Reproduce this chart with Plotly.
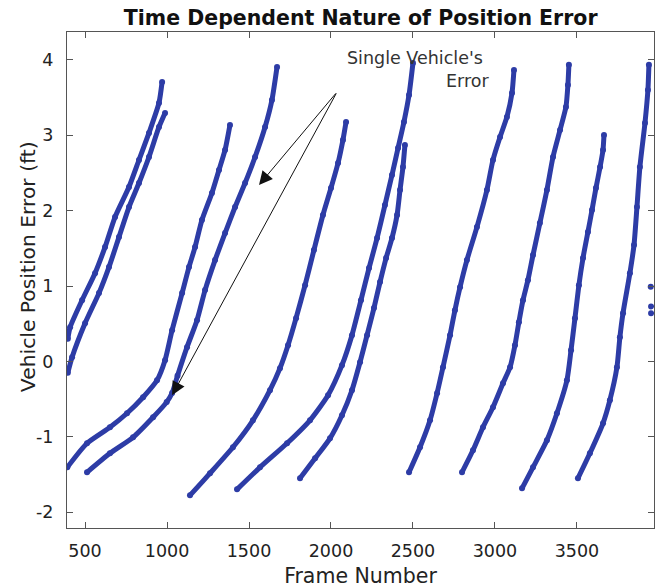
import plotly.graph_objects as go

# Frame number / position error (ft), one list pair per vehicle
frames_a = [395, 409, 482, 561, 622, 683, 768, 829, 890, 951, 970]
err_a = [0.30, 0.454, 0.813, 1.171, 1.517, 1.915, 2.313, 2.672, 3.031, 3.429, 3.708]

frames_b = [395, 421, 500, 585, 646, 707, 768, 829, 890, 951, 988]
err_b = [-0.15, 0.056, 0.507, 0.906, 1.251, 1.649, 2.048, 2.367, 2.712, 3.110, 3.296]

frames_c1 = [392, 512, 652, 756, 854, 939, 988, 1031, 1092, 1134, 1171, 1213, 1274, 1317, 1354, 1384]
err_c1 = [-1.405, -1.086, -0.874, -0.688, -0.475, -0.250, 0.016, 0.414, 0.906, 1.251, 1.517,
          1.875, 2.234, 2.539, 2.805, 3.137]

frames_c2 = [512, 652, 793, 915, 998, 1031, 1064, 1122, 1183, 1232, 1293, 1354, 1415, 1476,
             1537, 1598, 1640, 1671]
err_c2 = [-1.471, -1.219, -1.007, -0.741, -0.540, -0.420, -0.190, 0.189, 0.547, 0.946, 1.344,
          1.703, 2.048, 2.367, 2.712, 3.110, 3.469, 3.907]

frames_d1 = [1140, 1262, 1402, 1524, 1628, 1689, 1738, 1787, 1842, 1896, 1951, 2000, 2043,
             2073, 2092]
err_d1 = [-1.777, -1.485, -1.139, -0.781, -0.382, -0.090, 0.215, 0.574, 1.012, 1.477, 1.942,
          2.300, 2.632, 2.938, 3.177]

frames_d2 = [1427, 1567, 1732, 1872, 1982, 2067, 2128, 2183, 2232, 2281, 2329, 2372, 2409,
             2445, 2476, 2500]
err_d2 = [-1.697, -1.405, -1.086, -0.781, -0.449, -0.050, 0.348, 0.813, 1.238, 1.636, 2.074,
          2.473, 2.831, 3.177, 3.535, 3.960]

frames_d3 = [1811, 1903, 1994, 2067, 2128, 2177, 2220, 2262, 2299, 2336, 2372, 2403, 2421,
             2439, 2451]
err_d3 = [-1.551, -1.286, -1.020, -0.714, -0.382, -0.011, 0.348, 0.707, 1.052, 1.371, 1.636,
          1.942, 2.274, 2.579, 2.871]

frames_e = [2476, 2543, 2604, 2647, 2683, 2726, 2756, 2787, 2829, 2890, 2951, 2988, 3031,
            3073, 3104, 3116]
err_e = [-1.471, -1.139, -0.781, -0.422, -0.077, 0.348, 0.680, 0.985, 1.344, 1.782, 2.274,
         2.672, 2.977, 3.243, 3.562, 3.867]

frames_f = [2799, 2866, 2927, 2988, 3049, 3092, 3122, 3146, 3171, 3201, 3232, 3274, 3317,
            3354, 3397, 3433, 3445, 3451]
err_f = [-1.471, -1.179, -0.874, -0.608, -0.290, -0.077, 0.215, 0.521, 0.813, 1.078, 1.410,
         1.835, 2.274, 2.712, 3.070, 3.376, 3.668, 3.934]

frames_g = [3165, 3232, 3317, 3378, 3439, 3464, 3488, 3512, 3537, 3567, 3592, 3616, 3641,
            3659, 3665]
err_g = [-1.684, -1.405, -1.046, -0.688, -0.250, 0.149, 0.574, 1.012, 1.371, 1.716, 2.008,
         2.300, 2.579, 2.805, 3.004]

frames_h = [3506, 3579, 3659, 3701, 3744, 3762, 3781, 3823, 3848, 3866, 3884, 3915, 3933, 3939]
err_h = [-1.551, -1.219, -0.821, -0.515, -0.077, 0.321, 0.640, 1.171, 1.543, 2.048, 2.579,
         3.163, 3.602, 3.934]

frames_i = [3950, 3952, 3952]
err_i = [0.99, 0.73, 0.64]

x_ticks = [500, 1000, 1500, 2000, 2500, 3000, 3500]
y_ticks = [-2, -1, 0, 1, 2, 3, 4]
y_tick_labels = ["-2", "-1", "0", "1", "2", "3", "4"]

series = [
    (frames_a, err_a), (frames_b, err_b), (frames_c1, err_c1), (frames_c2, err_c2),
    (frames_d1, err_d1), (frames_d2, err_d2), (frames_d3, err_d3), (frames_e, err_e),
    (frames_f, err_f), (frames_g, err_g), (frames_h, err_h),
]

BLUE = "#2d3ca6"
FONT = "DejaVu Sans"

fig = go.Figure()
for xs, ys in series:
    fig.add_trace(go.Scatter(
        x=xs, y=ys, mode="lines+markers",
        line=dict(color=BLUE, width=5, shape="spline", smoothing=0.6),
        marker=dict(color=BLUE, size=6),
        showlegend=False, hoverinfo="skip",
    ))
fig.add_trace(go.Scatter(x=frames_i, y=err_i, mode="markers",
                         marker=dict(color=BLUE, size=6),
                         showlegend=False, hoverinfo="skip"))

# annotation arrows (tail at text, heads on a single vehicle's curve)
for hx, hy in [(1561, 2.34), (1031, -0.449)]:
    fig.add_annotation(
        x=hx, y=hy, ax=2037, ay=3.575, xref="x", yref="y", axref="x", ayref="y",
        text="", showarrow=True, arrowhead=2, arrowsize=2.7, arrowwidth=1,
        arrowcolor="#111", standoff=0, startstandoff=0,
    )
fig.add_annotation(x=2085, y=4.03, xref="x", yref="y", text="Single Vehicle's",
                   showarrow=False, xanchor="left", yanchor="middle",
                   font=dict(family=FONT, size=17.5, color="#333"))
fig.add_annotation(x=2975, y=3.72, xref="x", yref="y", text="Error",
                   showarrow=False, xanchor="right", yanchor="middle",
                   font=dict(family=FONT, size=17.5, color="#333"))
# y-axis title placed as rotated text
fig.add_annotation(x=-0.0664, y=0.526, xref="paper", yref="paper",
                   text="Vehicle Position Error (ft)", textangle=-90, showarrow=False,
                   xanchor="center", yanchor="middle",
                   font=dict(family=FONT, size=20.3, color="#222"))

axis_common = dict(
    showgrid=False, zeroline=False, showline=True, linecolor="#555", linewidth=1,
    mirror="ticks", ticks="inside", ticklen=6, tickcolor="#555",
    tickfont=dict(family=FONT, size=17.5, color="#222"),
)

fig.update_layout(
    width=657, height=588,
    margin=dict(l=67, r=3, t=32, b=60),
    paper_bgcolor="white", plot_bgcolor="white",
    title=dict(text="<b>Time Dependent Nature of Position Error</b>",
               x=0.549, xanchor="center", y=0.969, yanchor="middle", yref="container",
               font=dict(family=FONT, size=20.5, color="#111")),
    xaxis=dict(range=[390, 3970], tickvals=x_ticks, ticklabelstandoff=7,
               title=dict(text="Frame Number", standoff=8,
                          font=dict(family=FONT, size=20.5, color="#222")),
               **axis_common),
    yaxis=dict(range=[-2.21, 4.37], tickvals=y_ticks, ticktext=y_tick_labels,
               ticklabelstandoff=9, **axis_common),
)

fig.write_html(
    "out.html",
    config={"displayModeBar": False},
    post_script="document.body.style.margin='0';document.body.style.overflow='hidden';",
)
